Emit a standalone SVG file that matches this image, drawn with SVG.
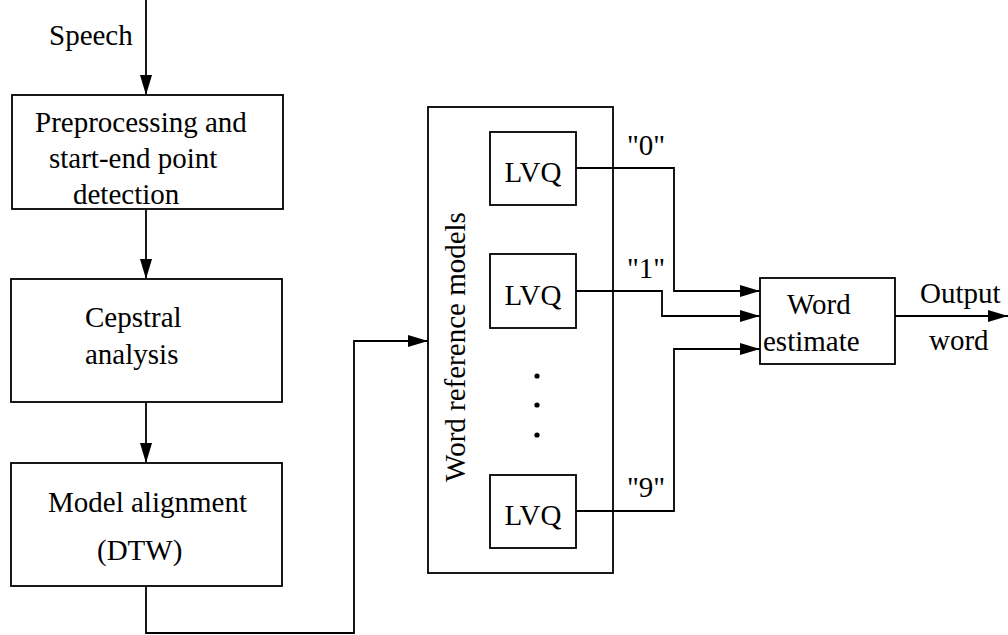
<svg xmlns="http://www.w3.org/2000/svg" width="1008" height="635" viewBox="0 0 1008 635">
<style>
.b{fill:#fff;stroke:#000;stroke-width:1.8}
.c{fill:none;stroke:#000;stroke-width:1.8}
</style>
<defs>
<marker id="ah" viewBox="0 0 20 12" refX="20" refY="6" markerWidth="20" markerHeight="12" markerUnits="userSpaceOnUse" orient="auto">
<path d="M0,0 L20,6 L0,12 Z" fill="#000"/>
</marker>
</defs>
<g id="connectors">
<path class="c" d="M146,0 V95" marker-end="url(#ah)"/>
<path class="c" d="M146,209 V279" marker-end="url(#ah)"/>
<path class="c" d="M146,402 V463" marker-end="url(#ah)"/>
<path class="c" d="M146,586 V633 H354 V341 H428" marker-end="url(#ah)"/>
<path class="c" d="M576,168 H674 V291 H760" marker-end="url(#ah)"/>
<path class="c" d="M576,291 H662 V316 H760" marker-end="url(#ah)"/>
<path class="c" d="M576,511 H674 V349 H760" marker-end="url(#ah)"/>
<path class="c" d="M895,316 H1008" marker-end="url(#ah)"/>
<text x="49" y="45" font-family="Liberation Serif" font-size="29">Speech</text>
<text x="627" y="155" font-family="Liberation Serif" font-size="29">"0"</text>
<text x="627" y="278" font-family="Liberation Serif" font-size="29">"1"</text>
<text x="627" y="497" font-family="Liberation Serif" font-size="29">"9"</text>
<text x="920" y="303" font-family="Liberation Serif" font-size="29">Output</text>
<text x="929" y="350" font-family="Liberation Serif" font-size="29">word</text>
</g>
<g id="preprocessing">
<rect class="b" x="12" y="95" width="271" height="114"/>
<text x="35" y="132" font-family="Liberation Serif" font-size="29">Preprocessing and</text>
<text x="49" y="168" font-family="Liberation Serif" font-size="29">start-end point</text>
<text x="73" y="204" font-family="Liberation Serif" font-size="29">detection</text>
</g>
<g id="cepstral">
<rect class="b" x="11" y="279" width="271" height="123"/>
<text x="85" y="327" font-family="Liberation Serif" font-size="29">Cepstral</text>
<text x="85" y="364" font-family="Liberation Serif" font-size="29">analysis</text>
</g>
<g id="alignment">
<rect class="b" x="11" y="463" width="271" height="123"/>
<text x="48" y="512" font-family="Liberation Serif" font-size="29">Model alignment</text>
<text x="97" y="560" font-family="Liberation Serif" font-size="29">(DTW)</text>
</g>
<g id="word-reference-models">
<rect class="b" x="428" y="107" width="185" height="466" style="fill:none"/>
<text transform="translate(465,347) rotate(-90)" text-anchor="middle" font-family="Liberation Serif" font-size="29">Word reference models</text>
<circle cx="537" cy="376" r="2.6"/>
<circle cx="537" cy="405" r="2.6"/>
<circle cx="537" cy="435" r="2.6"/>
</g>
<g id="lvq0">
<rect class="b" x="490" y="132" width="86" height="73"/>
<text x="533" y="182" text-anchor="middle" font-family="Liberation Serif" font-size="29">LVQ</text>
</g>
<g id="lvq1">
<rect class="b" x="490" y="254" width="86" height="74"/>
<text x="533" y="305" text-anchor="middle" font-family="Liberation Serif" font-size="29">LVQ</text>
</g>
<g id="lvq9">
<rect class="b" x="490" y="475" width="86" height="73"/>
<text x="533" y="525" text-anchor="middle" font-family="Liberation Serif" font-size="29">LVQ</text>
</g>
<g id="word-estimate">
<rect class="b" x="760" y="278" width="135" height="86"/>
<text x="787" y="314" font-family="Liberation Serif" font-size="29">Word</text>
<text x="763" y="351" font-family="Liberation Serif" font-size="29">estimate</text>
</g>
</svg>
